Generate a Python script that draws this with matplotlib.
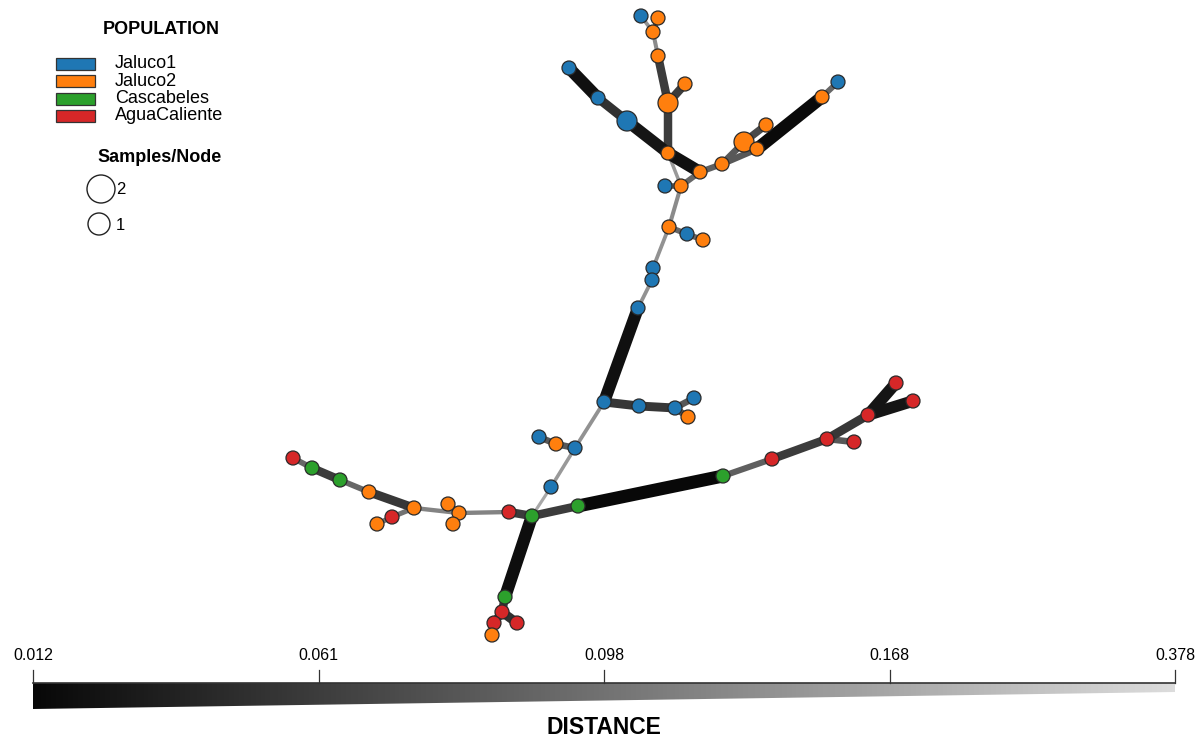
import numpy as np
import matplotlib
matplotlib.use('Agg')
import matplotlib.pyplot as plt
from matplotlib.collections import LineCollection
from matplotlib.patches import Circle, Rectangle, Polygon
from matplotlib.colors import LinearSegmentedColormap

plt.rcParams['font.family'] = ['Liberation Sans', 'DejaVu Sans']

# populations
populations = ['Jaluco1', 'Jaluco2', 'Cascabeles', 'AguaCaliente']
pop_colors = ['#1f77b4', '#ff7f0e', '#2ca02c', '#d62728']

# network layout (pixel coords), population index, samples per node
node_x = [641, 658, 653, 658, 668, 685, 668, 700, 569, 598,
          627, 665, 681, 722, 744, 766, 757, 822, 838, 669,
          687, 703, 653, 652, 638, 604, 639, 675, 694, 688,
          575, 556, 539, 551, 532, 509, 578, 723, 772, 827,
          854, 868, 896, 913, 505, 502, 494, 517, 492, 459,
          448, 453, 414, 392, 377, 369, 340, 312, 293]
node_y = [16, 18, 32, 56, 103, 84, 153, 172, 68, 98,
          121, 186, 186, 164, 142, 125, 149, 97, 82, 227,
          234, 240, 268, 280, 308, 402, 406, 408, 398, 417,
          448, 444, 437, 487, 516, 512, 506, 476, 459, 439,
          442, 415, 383, 401, 597, 612, 623, 623, 635, 513,
          504, 524, 508, 517, 524, 492, 480, 468, 458]
node_pop = [0, 1, 1, 1, 1, 1, 1, 1, 0, 0,
            0, 0, 1, 1, 1, 1, 1, 1, 0, 1,
            0, 1, 0, 0, 0, 0, 0, 0, 0, 1,
            0, 1, 0, 0, 2, 3, 2, 2, 3, 3,
            3, 3, 3, 3, 2, 3, 3, 3, 1, 1,
            1, 1, 1, 3, 1, 1, 2, 2, 3]
node_samples = [1] * 59
node_samples[4] = 2
node_samples[10] = 2
node_samples[14] = 2

# minimum spanning tree edges and their distances
edge_from = [0, 1, 2, 3, 4, 4, 8, 9, 10, 6, 6, 11, 12, 7, 13, 13, 14, 16, 17,
             12, 19, 20, 19, 22, 23, 24, 25, 26, 27, 27, 25, 30, 31, 30, 33,
             34, 34, 36, 37, 38, 39, 39, 41, 41, 34, 44, 45, 45, 46,
             35, 49, 49, 49, 52, 53, 52, 55, 56, 57]
edge_to = [2, 2, 3, 4, 5, 6, 9, 10, 6, 7, 12, 12, 7, 13, 14, 16, 15, 17, 18,
           19, 20, 21, 22, 23, 24, 25, 26, 27, 28, 29, 30, 31, 32, 33, 34,
           35, 36, 37, 38, 39, 40, 41, 42, 43, 44, 45, 46, 47, 48,
           49, 50, 51, 52, 53, 54, 55, 56, 57, 58]
edge_dist = [0.14, 0.10, 0.13, 0.06, 0.06, 0.06, 0.02, 0.05, 0.025, 0.02, 0.15, 0.09, 0.09,
             0.085, 0.08, 0.08, 0.07, 0.015, 0.09,
             0.13, 0.09, 0.09, 0.14, 0.12, 0.14, 0.02, 0.055, 0.055, 0.08, 0.08,
             0.14, 0.08, 0.08, 0.15, 0.17,
             0.06, 0.06, 0.012, 0.085, 0.06, 0.08, 0.055, 0.025, 0.025,
             0.018, 0.06, 0.06, 0.05, 0.07,
             0.12, 0.09, 0.09, 0.12, 0.10, 0.10, 0.055, 0.09, 0.06, 0.09]

dist_ticks = [0.012, 0.061, 0.098, 0.168, 0.378]
tick_pos = np.linspace(0, 1, len(dist_ticks))

cmap = LinearSegmentedColormap.from_list('dist', ['#080808', '#dcdcdc'])

fig = plt.figure(figsize=(12.03, 7.40), dpi=100)
ax = fig.add_axes([0, 0, 1, 1])
ax.set_xlim(0, 1203)
ax.set_ylim(740, 0)
ax.axis('off')

px = 0.72  # points per pixel at 100 dpi

# edges, lighter ones first so black ones sit on top
order = np.argsort(edge_dist)[::-1]
segs, cols, widths = [], [], []
for i in order:
    a, b = edge_from[i], edge_to[i]
    p = np.interp(edge_dist[i], dist_ticks, tick_pos)
    segs.append([(node_x[a], node_y[a]), (node_x[b], node_y[b])])
    cols.append(cmap(p))
    widths.append((2.5 + 10.5 * (1 - p) ** 2) * px)
ax.add_collection(LineCollection(segs, colors=cols, linewidths=widths,
                                 capstyle='butt', zorder=1))

# nodes
for x, y, pop, n in zip(node_x, node_y, node_pop, node_samples):
    r = 7 if n == 1 else 10
    ax.add_patch(Circle((x, y), r, facecolor=pop_colors[pop], edgecolor='#2a2a2a',
                        linewidth=0.9, zorder=3))

# population legend
ax.text(161, 29, 'POPULATION', ha='center', va='center', fontsize=13, fontweight='bold')
for k, (name, c) in enumerate(zip(populations, pop_colors)):
    yc = 64 + k * 17.3
    ax.add_patch(Rectangle((56, yc - 6), 39, 12, facecolor=c, edgecolor='#333333',
                           linewidth=0.9))
    ax.text(115, yc, name, ha='left', va='center', fontsize=13)

# samples/node legend
ax.text(160, 157, 'Samples/Node', ha='center', va='center', fontsize=13, fontweight='bold')
ax.add_patch(Circle((101, 189), 14, facecolor='white', edgecolor='#222222', linewidth=1))
ax.text(116, 190, '2', ha='left', va='center', fontsize=12)
ax.add_patch(Circle((99, 224), 11, facecolor='white', edgecolor='#222222', linewidth=1))
ax.text(116, 225, '1', ha='left', va='center', fontsize=12)

# distance scale wedge
bar_l, bar_r, bar_top = 33, 1175, 683
wedge = Polygon([(bar_l, bar_top), (bar_r, bar_top), (bar_r, 692), (bar_l, 709)],
                closed=True, facecolor='none', edgecolor='none')
ax.add_patch(wedge)
grad = np.linspace(0, 1, 512).reshape(1, -1)
im = ax.imshow(grad, cmap=cmap, extent=(bar_l, bar_r, 709, bar_top), aspect='auto',
               interpolation='bilinear', zorder=2)
im.set_clip_path(wedge)
ax.plot([bar_l, bar_r], [bar_top, bar_top], color='#333333', linewidth=1.2)
for p, t in zip(tick_pos, dist_ticks):
    xt = bar_l + p * (bar_r - bar_l)
    ax.plot([xt, xt], [670, bar_top], color='#333333', linewidth=0.9)
    ax.text(xt, 655, f'{t:.3f}', ha='center', va='center', fontsize=11.5)
ax.text(604, 728, 'DISTANCE', ha='center', va='center', fontsize=16.5, fontweight='bold')

fig.savefig('out.png', dpi=100)
